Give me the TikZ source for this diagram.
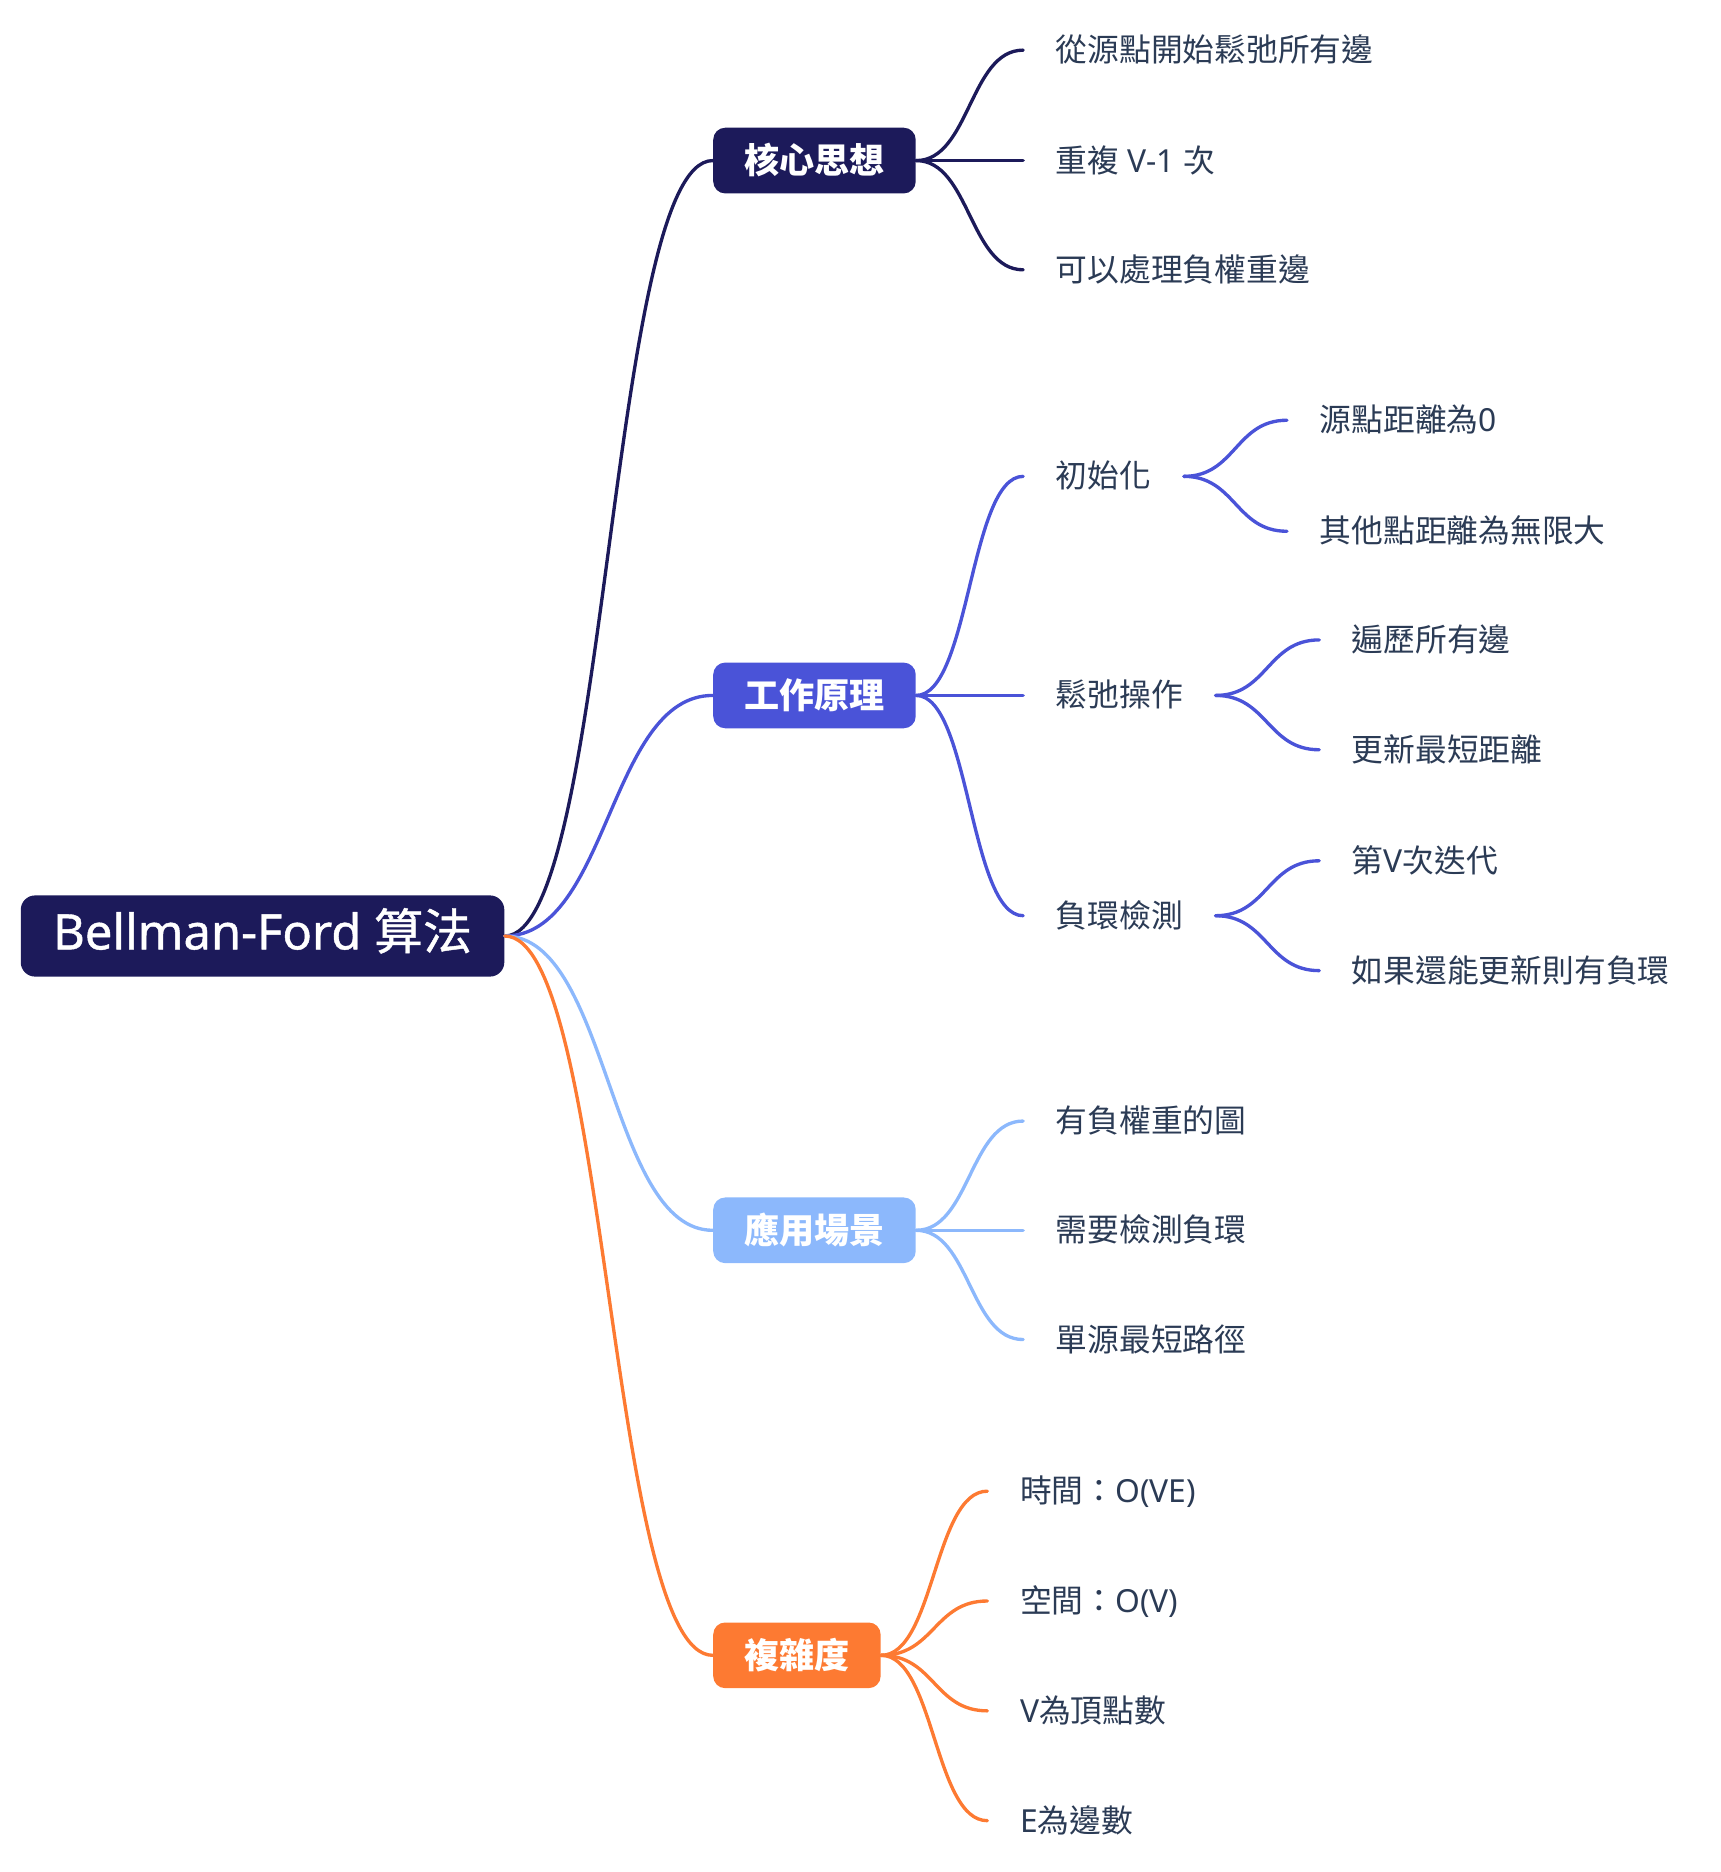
\documentclass[tikz,border=0pt]{standalone}
\usepackage{fontspec}
\setmainfont{Noto Sans}
\newfontfamily\cjk{Noto Sans CJK TC}
\newfontfamily\rootlat{Noto Sans}[FakeBold=0.9]
\newfontfamily\rootcjk{Noto Sans CJK TC}[FakeBold=0.9]
\usetikzlibrary{calc}
\definecolor{cNavy}{HTML}{1C1A5A}
\definecolor{cIndigo}{HTML}{4A53D8}
\definecolor{cLight}{HTML}{8CB8FC}
\definecolor{cOrange}{HTML}{FD7A32}
\definecolor{cText}{HTML}{2B3B55}
\tikzset{
  mm/.style={to path={let \p1=(\tikztostart), \p2=(\tikztotarget) in
    (\p1) .. controls ({(\x1+\x2)/2},\y1) and ({(\x1+\x2)/2},\y2) .. (\p2)}},
  link/.style={line width=1.4pt, line cap=round},
  leaf/.style={anchor=west, inner xsep=13.5pt, inner ysep=0pt, text=cText,
    font=\fontsize{13.3}{15}\selectfont, text height=1.0em, text depth=0.04em},
  topic/.style={anchor=west, rounded corners=5pt, inner xsep=13pt, inner ysep=0pt,
    minimum height=27.5pt, text=white, font=\cjk\bfseries\fontsize{14.7}{17}\selectfont,
    text height=1.08em, text depth=0em},
  rootbox/.style={anchor=west, rounded corners=6pt, fill=cNavy, text=white,
    minimum height=34pt, minimum width=202.5pt, inner ysep=0pt,
    font=\rootlat\fontsize{20.5}{23}\selectfont, text height=1.12em, text depth=0em},
}
\begin{document}
\begin{tikzpicture}[x=0.5pt,y=-0.5pt]
\useasboundingbox (0,0) rectangle (1441,1568);
% root
\node[rootbox] (root) at (17,784) {Bellman-Ford {\rootcjk 算法}};
% level 1
\node[topic, fill=cNavy] (k1) at (597,134.5) {核心思想};
\node[topic, fill=cIndigo] (k2) at (597,582.5) {工作原理};
\node[topic, fill=cLight] (k3) at (597,1030.5) {應用場景};
\node[topic, fill=cOrange] (k4) at (597,1386.5) {複雜度};
\draw[link, cNavy] (root.east) to[mm] (k1.west);
\draw[link, cIndigo] (root.east) to[mm] (k2.west);
\draw[link, cLight] (root.east) to[mm] (k3.west);
\draw[link, cOrange] (root.east) to[mm] (k4.west);
% 核心思想 children
\node[leaf] (a1) at (857,42) {\cjk 從源點開始鬆弛所有邊};
\node[leaf] (a2) at (857,134.5) {{\cjk 重複} V-1 {\cjk 次}};
\node[leaf] (a3) at (857,226) {\cjk 可以處理負權重邊};
\foreach \nm in {a1,a2,a3} \draw[link, cNavy] (k1.east) to[mm] (\nm.west);
% 工作原理 children
\node[leaf] (b1) at (857,399) {\cjk 初始化};
\node[leaf] (b2) at (857,582.5) {\cjk 鬆弛操作};
\node[leaf] (b3) at (857,767) {\cjk 負環檢測};
\foreach \nm in {b1,b2,b3} \draw[link, cIndigo] (k2.east) to[mm] (\nm.west);
\node[leaf] (b11) at (1078,352) {{\cjk 源點距離為}0};
\node[leaf] (b12) at (1078,445) {\cjk 其他點距離為無限大};
\node[leaf] (b21) at (1105,536) {\cjk 遍歷所有邊};
\node[leaf] (b22) at (1105,628) {\cjk 更新最短距離};
\node[leaf] (b31) at (1105,721) {{\cjk 第}V{\cjk 次迭代}};
\node[leaf] (b32) at (1105,813) {\cjk 如果還能更新則有負環};
\foreach \nm in {b11,b12} \draw[link, cIndigo] (b1.east) to[mm] (\nm.west);
\foreach \nm in {b21,b22} \draw[link, cIndigo] (b2.east) to[mm] (\nm.west);
\foreach \nm in {b31,b32} \draw[link, cIndigo] (b3.east) to[mm] (\nm.west);
% 應用場景 children
\node[leaf] (c1) at (857,939) {\cjk 有負權重的圖};
\node[leaf] (c2) at (857,1030.5) {\cjk 需要檢測負環};
\node[leaf] (c3) at (857,1122) {\cjk 單源最短路徑};
\foreach \nm in {c1,c2,c3} \draw[link, cLight] (k3.east) to[mm] (\nm.west);
% 複雜度 children
\node[leaf] (d1) at (827,1249) {{\cjk 時間：}O(VE)};
\node[leaf] (d2) at (827,1341) {{\cjk 空間：}O(V)};
\node[leaf] (d3) at (827,1433) {V{\cjk 為頂點數}};
\node[leaf] (d4) at (827,1525) {E{\cjk 為邊數}};
\foreach \nm in {d1,d2,d3,d4} \draw[link, cOrange] (k4.east) to[mm] (\nm.west);
\end{tikzpicture}
\end{document}
